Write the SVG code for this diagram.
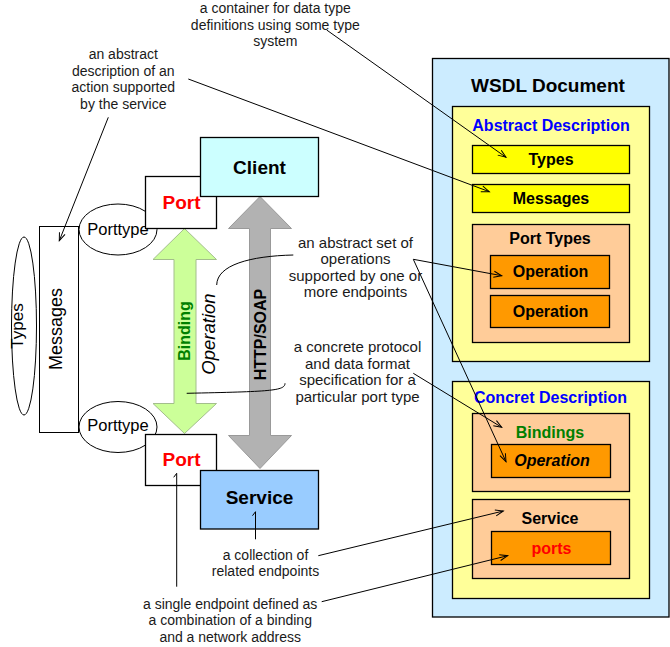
<svg xmlns="http://www.w3.org/2000/svg" width="670" height="647" viewBox="0 0 670 647">
<defs>
<style>
text{font-family:"Liberation Sans",Arial,sans-serif;}
.box{stroke:#000;stroke-width:1.3;}
.lbl{font-size:19px;font-weight:bold;text-anchor:middle;}
.rb{font-size:16px;font-weight:bold;text-anchor:middle;}
.note{font-size:14px;fill:#1a1a1a;text-anchor:middle;}
.note15{font-size:15px;}
.lead{fill:none;stroke:#000;stroke-width:1;}
</style>
<marker id="arr" markerUnits="userSpaceOnUse" markerWidth="12" markerHeight="12" refX="8" refY="3" orient="auto" overflow="visible">
<path d="M0,0 L8,3 L0,6" fill="none" stroke="#000" stroke-width="1"/>
</marker>
<marker id="tick" markerUnits="userSpaceOnUse" markerWidth="8" markerHeight="8" refX="0" refY="0" orient="auto" overflow="visible">
<path d="M0,0 L-4,-3" fill="none" stroke="#000" stroke-width="1"/>
</marker>
</defs>
<rect width="670" height="647" fill="#fff"/>

<g id="wsdl-document">
<rect class="box" x="432.5" y="58.5" width="236.5" height="558.5" fill="#CCECFF"/>
<text class="lbl" x="548" y="92" font-size="18">WSDL Document</text>
</g>
<g id="abstract-description">
<rect class="box" x="452.5" y="106.5" width="197" height="255" fill="#FFFF99"/>
<text class="rb" x="551" y="131" fill="#0000FF">Abstract Description</text>
</g>
<g id="types-box">
<rect class="box" x="472.5" y="145.5" width="157" height="28" fill="#FFFF00"/>
<text class="rb" x="551" y="164.5">Types</text>
</g>
<g id="messages-box">
<rect class="box" x="472.5" y="184.5" width="157" height="28" fill="#FFFF00"/>
<text class="rb" x="551" y="204">Messages</text>
</g>
<g id="port-types">
<rect class="box" x="472.5" y="224.5" width="157" height="118" fill="#FFCC99"/>
<text class="rb" x="550" y="243.5">Port Types</text>
</g>
<g id="operation-1">
<rect class="box" x="490.5" y="255.5" width="119" height="33" fill="#FF9900"/>
<text class="rb" x="550.5" y="277">Operation</text>
</g>
<g id="operation-2">
<rect class="box" x="490.5" y="295.5" width="119" height="32" fill="#FF9900"/>
<text class="rb" x="550.5" y="317">Operation</text>
</g>
<g id="concrete-description">
<rect class="box" x="452.5" y="381.5" width="197" height="217" fill="#FFFF99"/>
<text class="rb" x="550.5" y="402.5" fill="#0000FF">Concret Description</text>
</g>
<g id="bindings">
<rect class="box" x="472.5" y="413.5" width="157" height="78" fill="#FFCC99"/>
<text class="rb" x="550" y="438" fill="#008000">Bindings</text>
</g>
<g id="binding-operation">
<rect class="box" x="491.5" y="444.5" width="119" height="33" fill="#FF9900"/>
<text class="rb" x="552" y="466" font-style="italic">Operation</text>
</g>
<g id="service-box">
<rect class="box" x="472.5" y="499.5" width="157" height="79" fill="#FFCC99"/>
<text class="rb" x="550" y="523.5">Service</text>
</g>
<g id="ports">
<rect class="box" x="491.5" y="531.5" width="119" height="33" fill="#FF9900"/>
<text class="rb" x="551.5" y="553.5" fill="#FF0000">ports</text>
</g>

<g id="types-ellipse">
<ellipse cx="24" cy="326" rx="12.5" ry="89" fill="#fff" stroke="#000" stroke-width="1"/>
<text transform="translate(23,326) rotate(-90)" font-size="17" text-anchor="middle">Types</text>
</g>
<g id="messages-rect">
<rect x="39.5" y="226.5" width="39" height="206" fill="#fff" stroke="#000" stroke-width="1"/>
<text transform="translate(62,329) rotate(-90)" font-size="18" text-anchor="middle">Messages</text>
</g>
<g id="porttype-top">
<ellipse cx="118" cy="229.5" rx="39" ry="25.5" fill="#fff" stroke="#000" stroke-width="1"/>
<text x="118" y="234.5" font-size="16.5" text-anchor="middle">Porttype</text>
</g>
<g id="porttype-bottom">
<ellipse cx="118" cy="427" rx="39" ry="25.5" fill="#fff" stroke="#000" stroke-width="1"/>
<text x="118" y="431" font-size="16.5" text-anchor="middle">Porttype</text>
</g>
<g id="binding-arrow">
<polygon points="184.5,228.5 216.5,259.5 196,259.5 196,403.5 216.5,403.5 184.5,433.5 153,403.5 174,403.5 174,259.5 153,259.5" fill="#CCFF99" stroke="#A3BE8C" stroke-width="1"/>
<text transform="translate(190,331) rotate(-90)" font-size="16" font-weight="bold" fill="#008000" text-anchor="middle">Binding</text>
</g>
<g id="operation-label">
<text transform="translate(214.5,334) rotate(-90)" font-size="18.5" font-style="italic" text-anchor="middle">Operation</text>
</g>
<g id="http-soap-arrow">
<polygon points="260,196.5 291.5,228.5 270.5,228.5 270.5,435.5 291.5,435.5 260,468.5 228.5,435.5 249.5,435.5 249.5,228.5 228.5,228.5" fill="#B2B2B2" stroke="#999" stroke-width="1"/>
<text transform="translate(265.5,334.5) rotate(-90)" font-size="16" font-weight="bold" text-anchor="middle">HTTP/SOAP</text>
</g>
<g id="port-top">
<rect x="145.5" y="176.5" width="71" height="52" fill="#fff" stroke="#000" stroke-width="1.3"/>
<text class="lbl" x="181.5" y="208.5" fill="#FF0000">Port</text>
</g>
<g id="client">
<rect x="200.5" y="137.5" width="118" height="59" fill="#CCFFFF" stroke="#000" stroke-width="1.3"/>
<text class="lbl" x="259.5" y="173.5">Client</text>
</g>
<g id="port-bottom">
<rect x="145.5" y="434.5" width="71" height="51" fill="#fff" stroke="#000" stroke-width="1.3"/>
<text class="lbl" x="181.5" y="466" fill="#FF0000">Port</text>
</g>
<g id="service">
<rect x="200.5" y="470.5" width="118" height="58.5" fill="#99CCFF" stroke="#000" stroke-width="1.3"/>
<text class="lbl" x="259.5" y="504">Service</text>
</g>

<g id="notes">
<text class="note" font-size="14.5"><tspan x="275.3" y="13">a container for data type</tspan><tspan x="275.3" y="29.5">definitions using some type</tspan><tspan x="275.3" y="46">system</tspan></text>
<text class="note"><tspan x="123.3" y="59">an abstract</tspan><tspan x="123.3" y="75.5">description of an</tspan><tspan x="123.3" y="92">action supported</tspan><tspan x="123.3" y="108.5">by the service</tspan></text>
<text class="note note15"><tspan x="355.5" y="247.5">an abstract set of</tspan><tspan x="355.5" y="264">operations</tspan><tspan x="355.5" y="280.5">supported by one or</tspan><tspan x="355.5" y="297">more endpoints</tspan></text>
<text class="note note15"><tspan x="357.5" y="352">a concrete protocol</tspan><tspan x="357.5" y="368.5">and data format</tspan><tspan x="357.5" y="385">specification for a</tspan><tspan x="357.5" y="401.5">particular port type</tspan></text>
<text class="note"><tspan x="265.5" y="559.5">a collection of</tspan><tspan x="265.5" y="576">related endpoints</tspan></text>
<text class="note"><tspan x="230.2" y="608.5">a single endpoint defined as</tspan><tspan x="230.2" y="625">a combination of a binding</tspan><tspan x="230.2" y="641.5">and a network address</tspan></text>
</g>

<g id="connectors">
<line class="lead" x1="326.7" y1="30" x2="506" y2="157.3" marker-end="url(#arr)"/>
<line class="lead" x1="188.3" y1="79" x2="489.3" y2="191.7" marker-end="url(#arr)"/>
<line class="lead" x1="108.3" y1="117.3" x2="59.3" y2="240.7" marker-end="url(#arr)"/>
<path class="lead" d="M293.3,255 C250,256 217,265 216.7,285"/>
<line class="lead" x1="413.3" y1="259.3" x2="501.7" y2="275.7" marker-end="url(#arr)"/>
<line class="lead" x1="413.3" y1="259.3" x2="506" y2="461.7" marker-end="url(#arr)"/>
<path class="lead" d="M285,383.3 C285,391 270,391.5 186.7,393.3"/>
<line class="lead" x1="413.3" y1="373.3" x2="501.7" y2="427.3" marker-end="url(#arr)"/>
<line class="lead" x1="255.5" y1="539.3" x2="255.5" y2="511.7" marker-end="url(#tick)"/>
<line class="lead" x1="318.3" y1="555.7" x2="503.3" y2="511" marker-end="url(#arr)"/>
<line class="lead" x1="176.7" y1="586.7" x2="176.7" y2="473.3" marker-end="url(#tick)"/>
<line class="lead" x1="321.7" y1="601.7" x2="507.7" y2="555.7" marker-end="url(#arr)"/>
</g>
</svg>
